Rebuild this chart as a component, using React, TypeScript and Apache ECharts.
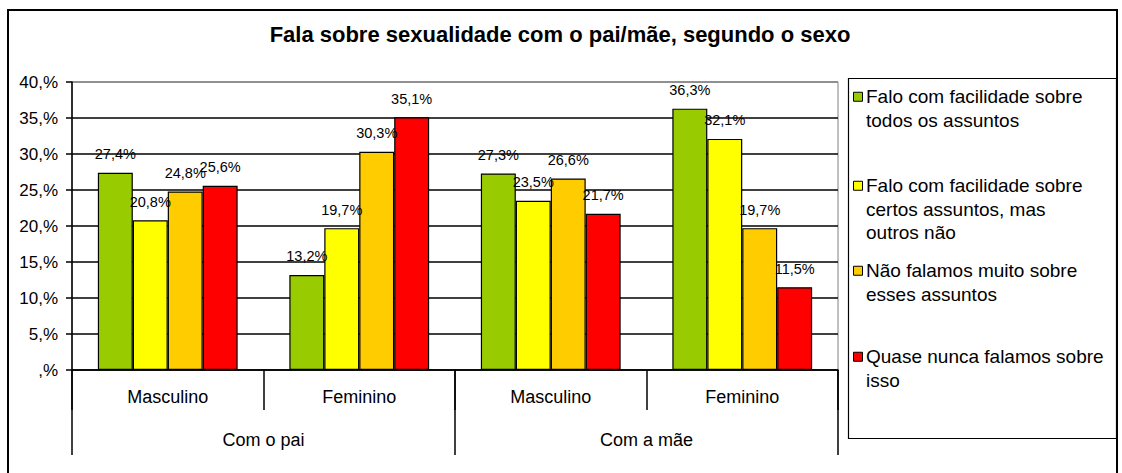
import React, { useEffect, useRef } from "react";
import * as echarts from "echarts";

const title = "Fala sobre sexualidade com o pai/mãe, segundo o sexo";
const sexCategories = ["Masculino", "Feminino", "Masculino", "Feminino"];
const parentCategories = ["Com o pai", "Com a mãe"];
const seriesNames = [
  "Falo com facilidade sobre todos os assuntos",
  "Falo com facilidade sobre certos assuntos, mas outros não",
  "Não falamos muito sobre esses assuntos",
  "Quase nunca falamos sobre isso",
];
const legendLines = [
  ["Falo com facilidade sobre", "todos os assuntos"],
  ["Falo com facilidade sobre", "certos assuntos, mas", "outros não"],
  ["Não falamos muito sobre", "esses assuntos"],
  ["Quase nunca falamos sobre", "isso"],
];
const seriesColors = ["#99CC00", "#FFFF00", "#FFCC00", "#FF0000"];
const values = [
  [27.4, 13.2, 27.3, 36.3],
  [20.8, 19.7, 23.5, 32.1],
  [24.8, 30.3, 26.6, 19.7],
  [25.6, 35.1, 21.7, 11.5],
];
const yTicks = [0, 5, 10, 15, 20, 25, 30, 35, 40];

const FONT = "'Liberation Sans', Arial, sans-serif";

export default function App() {
  const ref = useRef<HTMLDivElement>(null);
  useEffect(() => {
    document.body.style.margin = "0";
    const chart = echarts.init(ref.current!, undefined, { renderer: "svg" });

    const legendTops = [85, 174, 259, 345];
    const LH = 23.5;
    const legendGraphics: any[] = [];
    legendLines.forEach((lines, i) => {
      legendGraphics.push({
        type: "rect",
        shape: { x: 853.5, y: legendTops[i] + LH / 2 - 4.5, width: 9, height: 9 },
        style: { fill: seriesColors[i], stroke: "#000", lineWidth: 1 },
      });
      legendGraphics.push({
        type: "text",
        x: 866,
        y: legendTops[i],
        style: {
          text: lines.join("\n"),
          font: `19px ${FONT}`,
          lineHeight: LH,
          fill: "#000",
        },
      });
    });

    const option: any = {
      animation: false,
      backgroundColor: "#fff",
      textStyle: { fontFamily: FONT },
      title: {
        text: title,
        left: 555,
        textAlign: "center",
        top: 18,
        textStyle: { fontSize: 22, fontWeight: "bold", color: "#000", fontFamily: FONT },
      },
      grid: {
        left: 72,
        right: 284,
        top: 82,
        bottom: 103,
        show: true,
        borderColor: "#808080",
        borderWidth: 1,
        backgroundColor: "#fff",
      },
      xAxis: [
        {
          type: "category",
          data: sexCategories,
          position: "bottom",
          axisLine: { show: true, lineStyle: { color: "#000", width: 1.5 } },
          axisTick: { show: true, interval: 0, length: 40, lineStyle: { color: "#000", width: 1.5 } },
          axisLabel: { interval: 0, margin: 18, fontSize: 18, color: "#000", fontFamily: FONT },
        },
        {
          type: "category",
          data: parentCategories,
          position: "bottom",
          axisLine: { show: false },
          axisTick: { show: true, interval: 0, length: 85, lineStyle: { color: "#000", width: 1.5 } },
          axisLabel: { interval: 0, margin: 61, fontSize: 18, color: "#000", fontFamily: FONT },
        },
      ],
      yAxis: {
        type: "value",
        min: 0,
        max: 40,
        interval: 5,
        axisLine: { show: true, lineStyle: { color: "#000", width: 1.5 } },
        axisTick: { show: true, length: 6, lineStyle: { color: "#000", width: 1.5 } },
        axisLabel: {
          fontSize: 17,
          color: "#000",
          margin: 14,
          fontFamily: FONT,
          formatter: (v: number) => (v === 0 ? ",%" : `${v},%`),
        },
        splitLine: {
          show: true,
          lineStyle: {
            color: yTicks.map((t) => (t === 40 ? "#808080" : "#000")),
            width: 1.5,
          },
        },
      },
      series: seriesNames.map((name, i) => ({
        name,
        type: "bar",
        xAxisIndex: 0,
        data: values[i],
        barGap: "0%",
        barCategoryGap: "27%",
        itemStyle: { color: seriesColors[i], borderColor: "#000", borderWidth: 1.2 },
        label: {
          show: true,
          position: "top",
          distance: 11,
          fontSize: 14.5,
          color: "#000",
          fontFamily: FONT,
          formatter: (p: any) => `${String(p.value).replace(".", ",")}%`,
        },
      })),
      graphic: [
        {
          type: "rect",
          shape: { x: 8, y: 10, width: 1109, height: 470 },
          style: { fill: "none", stroke: "#000", lineWidth: 2 },
          silent: true,
        },
        {
          type: "rect",
          shape: { x: 848.5, y: 78.5, width: 268, height: 360 },
          style: { fill: "#fff", stroke: "#000", lineWidth: 1.2 },
        },
        ...legendGraphics,
      ],
    };
    chart.setOption(option);
    return () => chart.dispose();
  }, []);
  return <div ref={ref} style={{ width: 1122, height: 473 }} />;
}
